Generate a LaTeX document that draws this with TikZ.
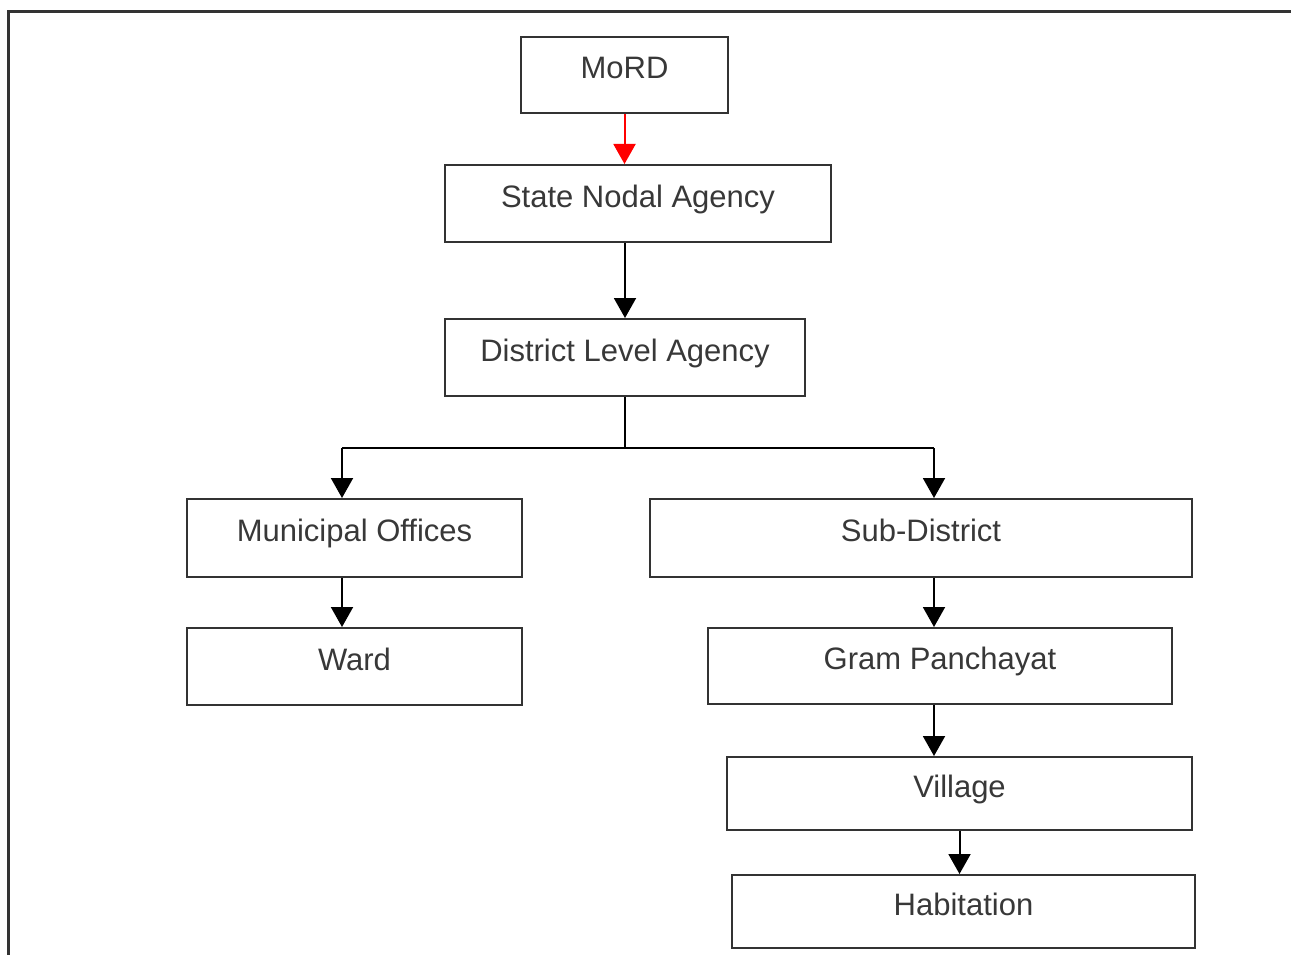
\documentclass[tikz,border=0pt]{standalone}
\usepackage{fontspec}
\setmainfont{Liberation Sans}
\usetikzlibrary{arrows.meta}
\definecolor{boxline}{HTML}{333333}
\definecolor{txt}{HTML}{383838}
\tikzset{
  box/.style={draw=boxline, line width=2pt, rectangle, inner sep=0pt,
    text=txt, font=\fontsize{31}{37}\selectfont, text height=22pt, text depth=14.6pt},
  arr/.style={draw=black, line width=2pt, -{Triangle[width=22pt,length=20pt]}},
  redarr/.style={draw=red, line width=2pt, -{Triangle[width=22pt,length=20pt]}},
  plain/.style={draw=black, line width=2pt},
  frame/.style={draw=boxline, line width=3pt}
}
\begin{document}
\begin{tikzpicture}[x=1pt,y=-1pt]
\useasboundingbox (0,0) rectangle (1291,955);
\draw[frame] (8,955) -- (8,12) -- (1291,12);

\node[box, minimum width=207pt, minimum height=76pt] (mord) at (624.5,75) {MoRD};
\node[box, minimum width=386pt, minimum height=77pt] (sna) at (638,203.5) {State Nodal Agency};
\node[box, minimum width=360pt, minimum height=77pt] (dla) at (625,357.5) {District Level Agency};
\node[box, minimum width=335pt, minimum height=78pt] (muni) at (354.5,538) {Municipal Offices};
\node[box, minimum width=335pt, minimum height=77pt] (ward) at (354.5,666.5) {Ward};
\node[box, minimum width=542pt, minimum height=78pt] (sd) at (921,538) {Sub-District};
\node[box, minimum width=464pt, minimum height=76pt] (gp) at (940,666) {Gram Panchayat};
\node[box, minimum width=465pt, minimum height=73pt] (vil) at (959.5,793.5) {Village};
\node[box, minimum width=463pt, minimum height=73pt] (hab) at (963.5,911.5) {Habitation};

\coordinate (jl) at (342,448);
\coordinate (jr) at (934,448);

\draw[redarr] (mord.south) -- (mord.south |- sna.north);
\draw[arr] (dla.north |- sna.south) -- (dla.north);
\draw[plain] (dla.south) -- (dla.south |- jl);
\draw[plain] (jl) -- (jr);
\draw[arr] (jl) -- (jl |- muni.north);
\draw[arr] (jr) -- (jr |- sd.north);
\draw[arr] (muni.south -| jl) -- (ward.north -| jl);
\draw[arr] (sd.south -| jr) -- (gp.north -| jr);
\draw[arr] (gp.south -| jr) -- (vil.north -| jr);
\draw[arr] (vil.south) -- (vil.south |- hab.north);
\end{tikzpicture}
\end{document}
